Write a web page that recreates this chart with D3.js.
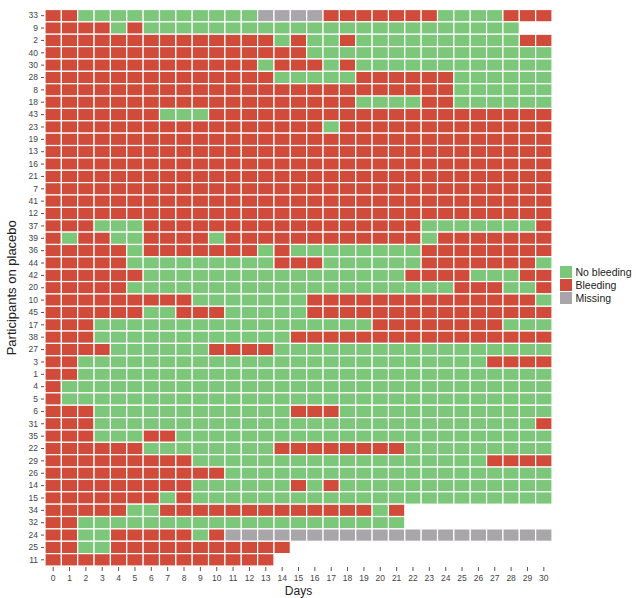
<!DOCTYPE html>
<html>
<head>
<meta charset="utf-8">
<script src="https://cdn.jsdelivr.net/npm/d3@7"></script>
<style>
  body { margin: 0; background: #fff; }
  svg { display: block; font-family: "Liberation Sans", Arial, sans-serif; }
</style>
</head>
<body>
<svg id="chart" width="636" height="598"></svg>
<script>
// participants, top to bottom
const participants = [33, 9, 2, 40, 30, 28, 8, 18, 43, 23, 19, 13, 16, 21, 7, 41, 12,
  37, 39, 36, 44, 42, 20, 10, 45, 17, 38, 27, 3, 1, 4, 5, 6, 31, 35, 22, 29, 26,
  14, 15, 34, 32, 24, 25, 11];

const days = d3.range(0, 31);

// daily status, day 0..30 (B = bleeding, N = no bleeding, M = missing, . = no record)
const status = [
  "BBNNN NNNNN NNNMM MMBBB BBBBN NNNBB B", // 33
  "BBBBN BNNNN NNNNN NNNNN NNNNN NNNN. .", // 9
  "BBBBB BBBBB BBBBN BNNBN NNNNN NNNNB B", // 2
  "BBBBB BBBBB BBBBB BNNNN NNNNN NNNNN N", // 40
  "BBBBB BBBBB BBBNB BBNBN NNNNN NNNNN N", // 30
  "BBBBB BBBBB BBBBN NNNNB BBBBB NNNNN N", // 28
  "BBBBB BBBBB BBBBB BBBBB BBBBB NNNNN N", // 8
  "BBBBB BBBBB BBBBB BBBBN NNNBB NNNNN N", // 18
  "BBBBB BBNNN BBBBB BBBBB BBBBB BBBBB B", // 43
  "BBBBB BBBBB BBBBB BBNBB BBBBB BBBBB B", // 23
  "BBBBB BBBBB BBBBB BBBBB BBBBB BBBBB B", // 19
  "BBBBB BBBBB BBBBB BBBBB BBBBB BBBBB B", // 13
  "BBBBB BBBBB BBBBB BBBBB BBBBB BBBBB B", // 16
  "BBBBB BBBBB BBBBB BBBBB BBBBB BBBBB B", // 21
  "BBBBB BBBBB BBBBB BBBBB BBBBB BBBBB B", // 7
  "BBBBB BBBBB BBBBB BBBBB BBBBB BBBBB B", // 41
  "BBBBB BBBBB BBBBB BBBBB BBBBB BBBBB B", // 12
  "BBBNN NBBBB BBBBB BBBBB BBBNN NNNNN B", // 37
  "BNBBN NBBBB NBBBB BBBBB BBBNB BBBBB B", // 39
  "BBBBB NBBBB BBBNB NNNNN NNNBB BBBBB B", // 36
  "BBBBB NNNNN NNNNB BBNNN NNNBB BBBBB N", // 44
  "BBBBB BNNNN NNNNN NNNNN NNBBB BNNNB B", // 42
  "BBBBB NNNNN NNNNN NNNNN NNNNN BBBNN B", // 20
  "BBBBB BBBBN NNNNN NBBBB BBBBB BBBBB N", // 10
  "BBBBB BNNBB BNNNN NBBBB BBBBB BBBBB B", // 45
  "BBBNN NNNNN NNNNN NNNNN BBBBB BBBNN N", // 17
  "BBBNN NNNNN NNNNN BBBBB BBBBB BBBBB B", // 38
  "BBBBN NNNNN BBBBN NNNNN NNNNN NNNNN N", // 27
  "BBNNN NNNNN NNNNN NNNNN NNNNN NNBBB B", // 3
  "BBNNN NNNNN NNNNN NNNNN NNNNN NNNNN N", // 1
  "BNNNN NNNNN NNNNN NNNNN NNNNN NNNNN N", // 4
  "BNNNN NNNNN NNNNN NNNNN NNNNN NNNNN N", // 5
  "BBBNN NNNNN NNNNN BBBNN NNNNN NNNNN N", // 6
  "BBBNN NNNNN NNNNN NNNNN NNNNN NNNNN B", // 31
  "BBBNN NBBNN NNNNN NNNNN NNNNN NNNNN N", // 35
  "BBBBB BNNNN NNNNB BBBBB BBNNN NNNNN N", // 22
  "BBBBB BBBBN NNNNN NNNNN NNNNN NNBBB B", // 29
  "BBBBB BBBBB BNNNN NNNNN NNNNN NNNNN N", // 26
  "BBBBB BBBBN NNNNN BNBNN NNNNN NNNNN N", // 14
  "BBBBB BBNBN NNNNN NNNNN NNNNN NNNNN N", // 15
  "BBBBB NNBBB BBBBB BBBBB NB... ..... .", // 34
  "BBNNN NNNNN NNNNN NNNNN NN... ..... .", // 32
  "BBNNB BBBBN BMMMM MMMMM MMMMM MMMMM M", // 24
  "BBNNB BBBBB BBBBB ..... ..... ..... .", // 25
  "BBBBB BBBBB BBBB. ..... ..... ..... ."  // 11
];

const legendKeys = ["N", "B", "M"];
const legendLabels = ["No bleeding", "Bleeding", "Missing"];
const colors = ["#7cc77a", "#d14b3b", "#a9a6aa"];

const cells = [];
participants.forEach((p, i) => {
  const codes = status[i].replace(/ /g, "");
  days.forEach(d => {
    const c = codes[d];
    if (c && c !== ".") cells.push({ participant: String(p), day: d, code: c });
  });
});

const margin = { top: 9.5, right: 84, bottom: 32, left: 45 };

const svg = d3.select("#chart");

const x = d3.scaleBand()
  .domain(days)
  .range([margin.left, 552]);

const y = d3.scaleBand()
  .domain(participants.map(String))
  .range([margin.top, 566]);

const color = d3.scaleOrdinal()
  .domain(legendKeys)
  .range(colors);

svg.append("g")
  .selectAll("rect")
  .data(cells)
  .join("rect")
  .attr("x", d => x(d.day))
  .attr("y", d => y(d.participant))
  .attr("width", x.bandwidth())
  .attr("height", y.bandwidth())
  .attr("fill", d => color(d.code))
  .attr("stroke", "#fff")
  .attr("stroke-width", 1.2);

// axes
const xAxis = svg.append("g")
  .attr("transform", `translate(0, 567)`)
  .call(d3.axisBottom(x).tickSize(4).tickPadding(4));
xAxis.select(".domain").remove();
xAxis.selectAll("line").attr("stroke", "#555");
xAxis.selectAll("text")
  .attr("fill", "#444")
  .attr("font-size", "8.5px")
  .attr("font-family", "Liberation Sans, Arial, sans-serif");

const yAxis = svg.append("g")
  .attr("transform", `translate(44, 0)`)
  .call(d3.axisLeft(y).tickSize(3).tickPadding(3));
yAxis.select(".domain").remove();
yAxis.selectAll("line").attr("stroke", "#555");
yAxis.selectAll("text")
  .attr("fill", "#444")
  .attr("font-size", "8.5px")
  .attr("font-family", "Liberation Sans, Arial, sans-serif");

// axis titles
svg.append("text")
  .attr("x", (margin.left + 552) / 2)
  .attr("y", 595)
  .attr("text-anchor", "middle")
  .attr("font-size", "12px")
  .attr("fill", "#222")
  .text("Days");

svg.append("text")
  .attr("transform", `translate(16, ${(margin.top + 566) / 2}) rotate(-90)`)
  .attr("text-anchor", "middle")
  .attr("font-size", "13px")
  .attr("fill", "#222")
  .text("Participants on placebo");

// legend
const legend = svg.append("g")
  .attr("transform", "translate(560, 266)");

legend.selectAll("rect")
  .data(legendKeys)
  .join("rect")
  .attr("x", 0)
  .attr("y", (d, i) => i * 13)
  .attr("width", 12)
  .attr("height", 12)
  .attr("fill", d => color(d));

legend.selectAll("text")
  .data(legendLabels)
  .join("text")
  .attr("x", 15.5)
  .attr("y", (d, i) => i * 13 + 10)
  .attr("font-size", "10.5px")
  .attr("fill", "#222")
  .text(d => d);
</script>
</body>
</html>
